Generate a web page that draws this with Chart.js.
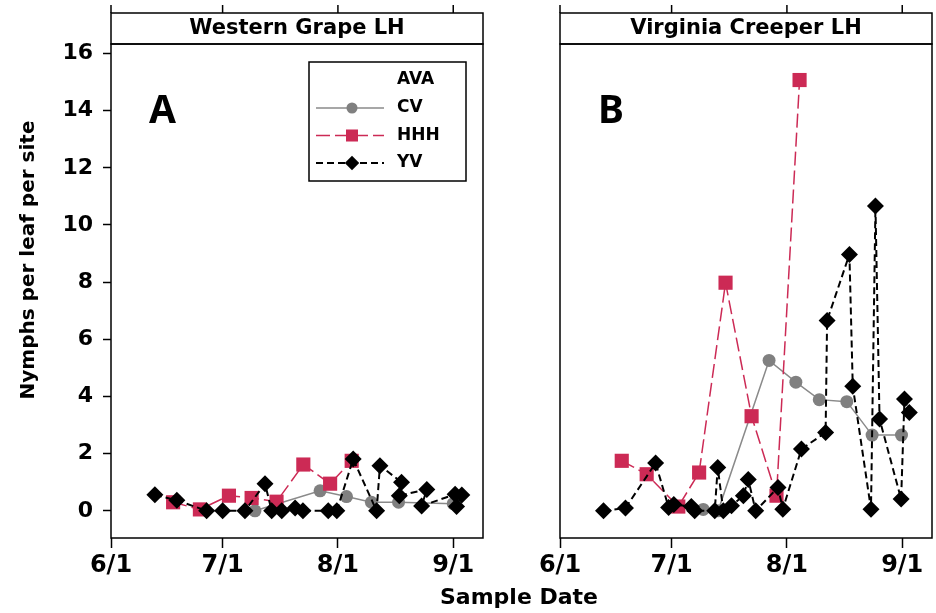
<!DOCTYPE html>
<html>
<head>
<meta charset="utf-8">
<script src="https://cdn.jsdelivr.net/npm/chart.js@4.4.1/dist/chart.umd.min.js"></script>
<style>
  body { margin: 0; background: #fff; width: 936px; height: 613px; position: relative; overflow: hidden; font-family: "DejaVu Sans", sans-serif; }
  #wrapA { position: absolute; left: 0; top: 0; width: 500px; height: 613px; }
  #wrapB { position: absolute; left: 450px; top: 0; width: 510px; height: 613px; }
  #xTitle { position: absolute; left: 419px; top: 584px; width: 200px; text-align: center; font: bold 22px "DejaVu Sans", sans-serif; line-height: 26px; color: #000; }
</style>
</head>
<body>
<div id="wrapA"><canvas id="chartA"></canvas></div>
<div id="wrapB"><canvas id="chartB"></canvas></div>
<div id="xTitle">Sample Date</div>
<script>
// x axis = days after June 1
const xTickDays = [0, 30, 61, 92];
const xTickLabels = ['6/1', '7/1', '8/1', '9/1'];
const yTicks = [0, 2, 4, 6, 8, 10, 12, 14, 16];

// Western Grape LH
const wgCvDays = [38.7, 56.2, 63.3, 70, 77.3, 92];
const wgCvVals = [0, 0.7, 0.5, 0.3, 0.3, 0.25];
const wgHhhDays = [16.7, 23.9, 31.7, 37.8, 44.5, 51.7, 58.9, 64.7];
const wgHhhVals = [0.3, 0.05, 0.53, 0.45, 0.32, 1.62, 0.95, 1.75];
const wgYvDays = [11.8, 17.7, 25.7, 30, 36, 41.4, 43.2, 45.9, 49.5, 51.6, 58.4, 60.7, 65.1, 71.4, 72.3, 78.1, 77.5, 84.9, 83.5, 92.5, 92.9, 94.3];
const wgYvVals = [0.56, 0.37, 0, 0, 0, 0.95, 0, 0, 0.1, 0, 0, 0, 1.81, 0, 1.58, 1.0, 0.53, 0.75, 0.17, 0.58, 0.15, 0.55];

// Virginia Creeper LH
const vcCvDays = [38.5, 42.5, 56.2, 63.4, 69.7, 77.1, 83.9, 91.8];
const vcCvVals = [0.05, 0, 5.26, 4.5, 3.89, 3.82, 2.65, 2.65];
const vcHhhDays = [16.6, 23.3, 31.8, 37.4, 44.5, 51.5, 58.2, 64.4];
const vcHhhVals = [1.75, 1.28, 0.15, 1.34, 7.98, 3.31, 0.53, 15.07];
const vcYvDays = [11.7, 17.6, 25.7, 29.2, 30.6, 35.3, 36.2, 41.6, 42.4, 43.9, 46.1, 49.3, 50.6, 52.6, 58.6, 59.9, 64.9, 71.4, 71.8, 77.8, 78.7, 83.6, 84.8, 85.9, 91.7, 92.6, 93.9];
const vcYvVals = [0, 0.1, 1.67, 0.12, 0.22, 0.15, 0, 0, 1.52, 0, 0.18, 0.53, 1.1, 0, 0.82, 0.06, 2.16, 2.74, 6.66, 8.97, 4.36, 0.06, 10.66, 3.21, 0.41, 3.91, 3.44];

const pts = (xs, ys) => xs.map((d, i) => ({ x: d, y: ys[i] }));
const tickFont = { family: 'DejaVu Sans', size: 22, weight: 'bold' };

function makeDatasets(cvD, cvV, hD, hV, yD, yV) {
  return [
    { label: 'CV', data: pts(cvD, cvV), borderColor: '#8a8a8a', backgroundColor: '#808080',
      borderWidth: 1.5, pointStyle: 'circle', pointRadius: 6.5, pointBorderWidth: 0, order: 3 },
    { label: 'HHH', data: pts(hD, hV), borderColor: '#cc2a55', backgroundColor: '#cc2a55',
      borderWidth: 1.5, borderDash: [14, 5], pointStyle: 'rect', pointRadius: 10, pointBorderWidth: 0, order: 2 },
    { label: 'YV', data: pts(yD, yV), borderColor: '#000', backgroundColor: '#000',
      borderWidth: 2, borderDash: [7, 4], pointStyle: 'rectRot', pointRadius: 8.5, pointBorderWidth: 0, order: 1 }
  ];
}

function marker(ctx, style, x, y, r, color) {
  ctx.save();
  ctx.fillStyle = color;
  ctx.setLineDash([]);
  ctx.beginPath();
  if (style === 'circle') ctx.arc(x, y, r, 0, Math.PI * 2);
  else if (style === 'rect') { const s = r * Math.SQRT1_2; ctx.rect(x - s, y - s, 2 * s, 2 * s); }
  else { ctx.moveTo(x, y - r); ctx.lineTo(x + r, y); ctx.lineTo(x, y + r); ctx.lineTo(x - r, y); ctx.closePath(); }
  ctx.fill();
  ctx.restore();
}

// frame, header strip, top ticks, panel letter, legend, y title
const panelDecor = {
  id: 'panelDecor',
  afterDraw(chart, args, o) {
    const { ctx, chartArea: a } = chart;
    const x = chart.scales.x;
    ctx.save();
    ctx.strokeStyle = '#000';
    ctx.lineWidth = 1.5;
    ctx.strokeRect(a.left, a.top, a.right - a.left, a.bottom - a.top);
    ctx.strokeRect(a.left, 13, a.right - a.left, a.top - 13);
    xTickDays.forEach(d => {
      const px = x.getPixelForValue(d);
      ctx.beginPath(); ctx.moveTo(px, 5); ctx.lineTo(px, 13); ctx.stroke();
    });
    ctx.fillStyle = '#000';
    ctx.font = 'bold 21px "DejaVu Sans"';
    ctx.textAlign = 'center';
    ctx.textBaseline = 'middle';
    ctx.fillText(o.title, (a.left + a.right) / 2, 29);
    ctx.font = 'bold 39px "Noto Sans"';
    ctx.textAlign = 'left';
    ctx.textBaseline = 'alphabetic';
    ctx.fillText(o.letter, a.left + 38, 123);

    if (o.legend) {
      const lx = a.left + 198, ly = 62;
      ctx.strokeRect(lx, ly, 157, 119);
      ctx.font = 'bold 17px "DejaVu Sans"';
      ctx.textBaseline = 'middle';
      ctx.fillText('AVA', lx + 88, ly + 18);
      chart.data.datasets.forEach((ds, i) => {
        const yy = ly + 46 + i * 27.5;
        ctx.save();
        ctx.strokeStyle = ds.borderColor;
        ctx.lineWidth = ds.borderWidth;
        ctx.setLineDash(ds.borderDash || []);
        ctx.beginPath(); ctx.moveTo(lx + 7, yy); ctx.lineTo(lx + 75, yy); ctx.stroke();
        ctx.restore();
        marker(ctx, ds.pointStyle, lx + 43, yy, ds.pointRadius * 0.85, ds.backgroundColor);
        ctx.fillText(ds.label, lx + 88, yy);
      });
    }
    if (o.yTitle) {
      ctx.translate(29, 260);
      ctx.rotate(-Math.PI / 2);
      ctx.font = 'bold 20px "DejaVu Sans"';
      ctx.textAlign = 'center';
      ctx.textBaseline = 'middle';
      ctx.fillText(o.yTitle, 0, 0);
    }
    ctx.restore();
  }
};

function buildChart(id, datasets, opts) {
  return new Chart(document.getElementById(id), {
    type: 'line',
    data: { datasets },
    plugins: [panelDecor],
    options: {
      responsive: true,
      maintainAspectRatio: false,
      animation: false,
      layout: { padding: { top: 44, right: opts.padRight, left: 0, bottom: 0 } },
      plugins: {
        legend: { display: false },
        tooltip: { enabled: false },
        panelDecor: opts.decor
      },
      scales: {
        x: {
          type: 'linear', min: 0, max: 100,
          afterFit: s => { s.height = 75; },
          afterBuildTicks: s => { s.ticks = xTickDays.map(v => ({ value: v })); },
          ticks: { callback: (v, i) => xTickLabels[i], font: { family: 'DejaVu Sans', size: 24, weight: 'bold' },
                   color: '#000', padding: 3, maxRotation: 0, autoSkip: false },
          grid: { drawOnChartArea: false, tickLength: 10, tickColor: '#000', tickWidth: 1.5 },
          border: { display: false }
        },
        y: {
          min: -0.95, max: 16.33,
          afterFit: s => { s.width = opts.yWidth; },
          afterBuildTicks: s => { s.ticks = yTicks.map(v => ({ value: v })); },
          ticks: { display: opts.showY, font: tickFont, color: '#000', padding: 10 },
          grid: { display: opts.showY, drawOnChartArea: false, tickLength: 8, tickColor: '#000', tickWidth: 1.5 },
          border: { display: false }
        }
      }
    }
  });
}

buildChart('chartA', makeDatasets(wgCvDays, wgCvVals, wgHhhDays, wgHhhVals, wgYvDays, wgYvVals), {
  padRight: 17, showY: true, yWidth: 111,
  decor: { title: 'Western Grape LH', letter: 'A', legend: true, yTitle: 'Nymphs per leaf per site' }
});
buildChart('chartB', makeDatasets(vcCvDays, vcCvVals, vcHhhDays, vcHhhVals, vcYvDays, vcYvVals), {
  padRight: 28, showY: false, yWidth: 110,
  decor: { title: 'Virginia Creeper LH', letter: 'B', legend: false }
});
</script>
</body>
</html>
